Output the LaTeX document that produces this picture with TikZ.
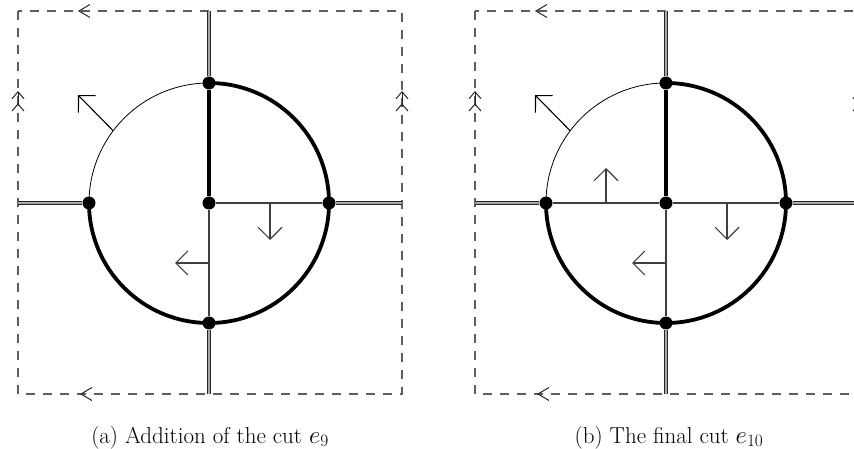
\documentclass[tikz,border=0pt]{standalone}
\usepackage{fontspec}
\usepackage{tikz}
\usetikzlibrary{arrows.meta}
\definecolor{framegray}{HTML}{5E5E5E}
\definecolor{gluegray}{HTML}{A8A8A8}
\definecolor{edgegray}{HTML}{404040}

\begin{document}
\begin{tikzpicture}[x=1pt,y=1pt,line cap=butt,
  vertex/.style={circle,fill=black,inner sep=0pt,minimum size=13pt},
  frame/.style={framegray,line width=1.2pt,dash pattern=on 9pt off 8pt},
  glue/.style={draw=black!85,line width=0.9pt,double=gluegray,double distance=2pt},
  edge/.style={edgegray,line width=1.1pt},
  cut/.style={black,line width=3.8pt},
  rim/.style={black,line width=0.8pt},
  normal/.style={edgegray,line width=1.1pt,-{Straight Barb[length=12pt,width=24pt,line width=1.1pt]}},
  side/.style={black!85,line width=1pt,-{Straight Barb[length=11pt,width=13pt,line width=1pt]}},
  twin/.style={black!85,line width=1pt,-{Straight Barb[length=7pt,width=12pt,sep=4pt,line width=1pt]Straight Barb[length=7pt,width=12pt,line width=1pt]}},
  caption/.style={anchor=base,inner sep=0pt,font=\fontsize{23}{27}\selectfont}]
  \clip (0,0) rectangle (854,-449);

  % panel a
  \draw[frame] (18,-11) rectangle (402,-394);
  \node[vertex] (a-c) at (209,-203) {};
  \node[vertex] (a-t) at (209,-83) {};
  \node[vertex] (a-l) at (89,-203) {};
  \node[vertex] (a-r) at (329,-203) {};
  \node[vertex] (a-b) at (209,-323) {};
  \coordinate (a-tt) at (209,-11);
  \coordinate (a-ll) at (18,-203);
  \coordinate (a-rr) at (402,-203);
  \coordinate (a-bb) at (209,-394);
  \draw[glue] (a-t) -- (a-tt);
  \draw[glue] (a-l) -- (a-ll);
  \draw[glue] (a-r) -- (a-rr);
  \draw[glue] (a-b) -- (a-bb);
  \draw[rim] (a-t.center) arc[start angle=90,end angle=180,radius=120];
  \draw[cut] (a-t.center) arc[start angle=90,end angle=-180,radius=120];
  \draw[cut] (a-c) -- (a-t);
  \draw[edge] (a-c) -- (a-r);
  \draw[edge] (a-c) -- (a-b);
  \coordinate (a-n1) at (113.2,-130.8);
  \coordinate (a-n1e) at (78,-95);
  \coordinate (a-n2) at (270,-203);
  \coordinate (a-n2e) at (270,-240);
  \coordinate (a-n3) at (209,-263);
  \coordinate (a-n3e) at (175,-263);
  \draw[normal,black] (a-n1) -- (a-n1e);
  \draw[normal] (a-n2) -- (a-n2e);
  \draw[normal] (a-n3) -- (a-n3e);
  \draw[side] (79,-11) -- (78,-11);
  \draw[side] (81,-394) -- (80,-394);
  \draw[twin] (18,-106) -- (18,-91);
  \draw[twin] (402,-106) -- (402,-91);
  \node[caption] (cap-a) at (210,-443) {(a) Addition of the cut $e_9$};

  % panel b
  \draw[frame] (475,-11) rectangle (859,-394);
  \node[vertex] (b-c) at (666,-203) {};
  \node[vertex] (b-t) at (666,-83) {};
  \node[vertex] (b-l) at (546,-203) {};
  \node[vertex] (b-r) at (786,-203) {};
  \node[vertex] (b-b) at (666,-323) {};
  \coordinate (b-tt) at (666,-11);
  \coordinate (b-ll) at (475,-203);
  \coordinate (b-rr) at (859,-203);
  \coordinate (b-bb) at (666,-394);
  \draw[glue] (b-t) -- (b-tt);
  \draw[glue] (b-l) -- (b-ll);
  \draw[glue] (b-r) -- (b-rr);
  \draw[glue] (b-b) -- (b-bb);
  \draw[rim] (b-t.center) arc[start angle=90,end angle=180,radius=120];
  \draw[cut] (b-t.center) arc[start angle=90,end angle=-180,radius=120];
  \draw[cut] (b-c) -- (b-t);
  \draw[edge] (b-l) -- (b-c);
  \draw[edge] (b-c) -- (b-r);
  \draw[edge] (b-c) -- (b-b);
  \coordinate (b-n1) at (570.2,-130.8);
  \coordinate (b-n1e) at (535,-95);
  \coordinate (b-n2) at (727,-203);
  \coordinate (b-n2e) at (727,-240);
  \coordinate (b-n3) at (666,-263);
  \coordinate (b-n3e) at (632,-263);
  \coordinate (b-n4) at (606,-203);
  \coordinate (b-n4e) at (606,-168);
  \draw[normal,black] (b-n1) -- (b-n1e);
  \draw[normal] (b-n2) -- (b-n2e);
  \draw[normal] (b-n3) -- (b-n3e);
  \draw[normal] (b-n4) -- (b-n4e);
  \draw[side] (536,-11) -- (535,-11);
  \draw[side] (538,-394) -- (537,-394);
  \draw[twin] (475,-106) -- (475,-91);
  \draw[twin] (859,-106) -- (859,-91);
  \node[caption] (cap-b) at (669,-443) {(b) The final cut $e_{10}$};
\end{tikzpicture}
\end{document}
